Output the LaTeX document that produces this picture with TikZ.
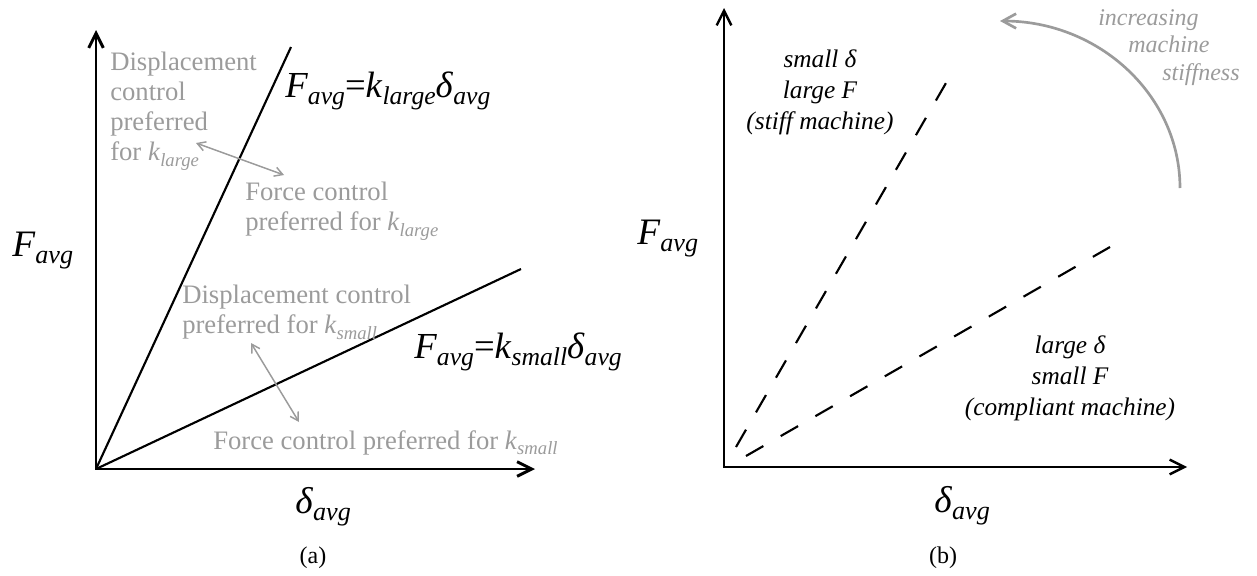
\documentclass[tikz,border=0pt]{standalone}
\usepackage{fontspec}
\setmainfont{Liberation Serif}
\usepackage{graphicx}
\usetikzlibrary{arrows.meta}
\definecolor{txtgray}{RGB}{155,155,155}
\newcommand{\sbs}[1]{\raisebox{-0.2em}{\scalebox{0.7}{\itshape #1}}}
\begin{document}
\begin{tikzpicture}[x=0.75pt,y=-0.75pt,
  axisA/.style={line width=2.2pt,{Straight Barb[length=11pt,width=11pt]}-{Straight Barb[length=11pt,width=11pt]}},
  axisB/.style={line width=1.8pt,{Straight Barb[length=11pt,width=11pt]}-{Straight Barb[length=11pt,width=11pt]}},
  kline/.style={line width=1.6pt},
  dline/.style={line width=1.6pt,dash pattern=on 15pt off 15pt},
  garrow/.style={draw=txtgray,line width=1.1pt,{Straight Barb[length=6pt,width=7pt]}-{Straight Barb[length=6pt,width=7pt]}},
  garc/.style={draw=txtgray,line width=2pt,-{Straight Barb[length=10pt,width=11pt]}},
  gtext/.style={inner sep=0pt,text=txtgray,font=\fontsize{20}{22.5}\selectfont,align=left},
  eqtext/.style={inner sep=0pt,font=\fontsize{27.5}{30}\selectfont},
  axlabel/.style={inner sep=0pt,font=\fontsize{28}{30}\selectfont},
  btext/.style={inner sep=0pt,font=\itshape\fontsize{19}{23}\selectfont,align=center},
  inctext/.style={inner sep=0pt,text=txtgray,font=\itshape\fontsize{18}{20.6}\selectfont,align=left},
  captext/.style={inner sep=0pt,font=\fontsize{18}{20}\selectfont}]
\useasboundingbox (0,0) rectangle (1257,575);
% ---------- panel (a) ----------
\coordinate (oA) at (96,469);
\coordinate (yA) at (96,30);
\coordinate (xA) at (535,469);
\coordinate (kL) at (291,47);
\coordinate (kS) at (521,269);
\coordinate (g1a) at (196,143);
\coordinate (g1b) at (284,175);
\coordinate (g2a) at (251,343);
\coordinate (g2b) at (299,422);
\draw[axisA] (yA) -- (oA) -- (xA);
\draw[kline] (oA) -- (kL);
\draw[kline] (oA) -- (kS);
\draw[garrow] (g1a) -- (g1b);
\draw[garrow] (g2a) -- (g2b);
\node[gtext,anchor=north west] (dispL) at (110,52) {Displacement\\control\\preferred\\for \textit{k}\sbs{large}};
\node[gtext,anchor=north west] (forceL) at (245,182) {Force control\\preferred for \textit{k}\sbs{large}};
\node[gtext,anchor=north west] (dispS) at (182,285) {Displacement control\\preferred for \textit{k}\sbs{small}};
\node[gtext,anchor=base west] (forceS) at (213,449) {Force control preferred for \textit{k}\sbs{small}};
\node[eqtext,anchor=base west] (eqL) at (285,97) {\textit{F}\sbs{avg}=\textit{k}\sbs{large}\textit{δ}\sbs{avg}};
\node[eqtext,anchor=base west] (eqS) at (414,358) {\textit{F}\sbs{avg}=\textit{k}\sbs{small}\textit{δ}\sbs{avg}};
\node[axlabel,anchor=base west] (FA) at (12,256) {\textit{F}\sbs{avg}};
\node[axlabel,anchor=base west] (dA) at (295,513) {\textit{δ}\sbs{avg}};
\node[captext,anchor=base] (capA) at (313,563) {(a)};
% ---------- panel (b) ----------
\coordinate (oB) at (724,467);
\coordinate (yB) at (724,8);
\coordinate (xB) at (1187,467);
\coordinate (dSa) at (736,447);
\coordinate (dSb) at (946,83);
\coordinate (dLa) at (746,456);
\coordinate (dLb) at (1110,247);
\coordinate (arcS) at (1180,188);
\draw[axisB] (yB) -- (oB) -- (xB);
\draw[dline] (dSa) -- (dSb);
\draw[dline] (dLa) -- (dLb);
\draw[garc] (arcS) arc[start angle=0,end angle=-90,x radius=180,y radius=167];
\node[btext,anchor=north] (stiff) at (820,50) {small δ\\large F\\(stiff machine)};
\node[btext,anchor=north] (compl) at (1070,336) {large δ\\small F\\(compliant machine)};
\node[inctext,anchor=north west] (incr) at (1098,9) {increasing\\\hspace*{22.5pt}machine\\\hspace*{48pt}stiffness};
\node[axlabel,anchor=base west] (FB) at (637,244) {\textit{F}\sbs{avg}};
\node[axlabel,anchor=base west] (dB) at (934,512) {\textit{δ}\sbs{avg}};
\node[captext,anchor=base] (capB) at (943,563) {(b)};
\end{tikzpicture}
\end{document}
